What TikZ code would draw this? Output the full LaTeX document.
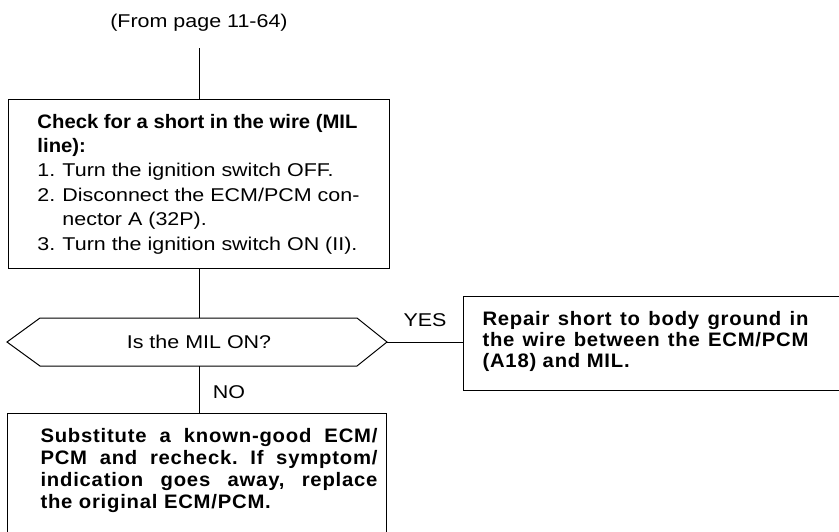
\documentclass[tikz,border=0pt]{standalone}
\usepackage{fontspec}
\setmainfont{Liberation Sans}[FakeStretch=1.16,BoldFeatures={FakeStretch=1.04}]
\newfontfamily\bwide{Liberation Sans Bold}[FakeStretch=1.04,LetterSpace=4]
\newcommand\jline[1]{\makebox[\linewidth][s]{#1}}
\frenchspacing
\begin{document}
\begin{tikzpicture}[x=1pt,y=1pt,line width=1pt,
  boxnode/.style={draw, inner sep=0pt, anchor=north west},
  lbl/.style={inner sep=0pt, font=\fontsize{18.5}{22}\selectfont}]
\useasboundingbox (0,0) rectangle (839,-531);
\fill[white] (0,0) rectangle (839,-531);

\node[lbl] (from) at (199,-23) {(From page 11-64)};

\node[boxnode, minimum width=381, minimum height=169] (box1) at (8,-99)
  {\hspace*{29pt}\parbox{330pt}{\fontsize{18.5}{24.4}\selectfont
   {\fontsize{19.5}{24.4}\selectfont\bfseries Check for a short in the wire (MIL\\
   line):}\\
   \makebox[25pt][l]{1.}Turn the ignition switch OFF.\\
   \makebox[25pt][l]{2.}Disconnect the ECM/PCM con-\\
   \hspace*{25pt}nector A (32P).\\
   \makebox[25pt][l]{3.}Turn the ignition switch ON (II).}\hspace*{22pt}};

\coordinate (qL) at (7,-342);
\coordinate (qTL) at (40,-318);
\coordinate (qTR) at (357,-318);
\coordinate (qR) at (387,-342);
\coordinate (qBR) at (357,-366);
\coordinate (qBL) at (40,-366);
\coordinate (qtop) at (199,-318);
\coordinate (qbot) at (199,-366);
\draw (qL) -- (qTL) -- (qTR) -- (qR) -- (qBR) -- (qBL) -- cycle;
\node[lbl] (q) at (199,-342) {Is the MIL ON?};

\node[boxnode, minimum width=380, minimum height=94] (box2) at (463,-296)
  {\hspace*{19pt}\parbox{326pt}{\fontsize{19.5}{21}\selectfont\bwide
   \jline{Repair short to body ground in}\\
   \jline{the wire between the ECM/PCM}\\
   (A18) and MIL.\par\vspace{4pt}}\hspace*{35pt}};

\node[boxnode, minimum width=379, minimum height=122] (box3) at (7,-413)
  {\hspace*{33pt}\parbox{337pt}{\fontsize{19.5}{22.2}\selectfont\bwide
   \jline{Substitute a known-good ECM/}\\
   \jline{PCM and recheck. If symptom/}\\
   \jline{indication goes away, replace}\\
   the original ECM/PCM.\par\vspace{8pt}}\hspace*{9pt}};

\node[lbl] (yes) at (425,-320) {YES};
\node[lbl] (no) at (229,-392) {NO};

\draw (from.south |- 0,-48) -- (box1.north);
\draw (box1.south) -- (qtop);
\draw (qR) -- (box2.west |- qR);
\draw (qbot) -- (qbot |- box3.north);
\end{tikzpicture}
\end{document}
